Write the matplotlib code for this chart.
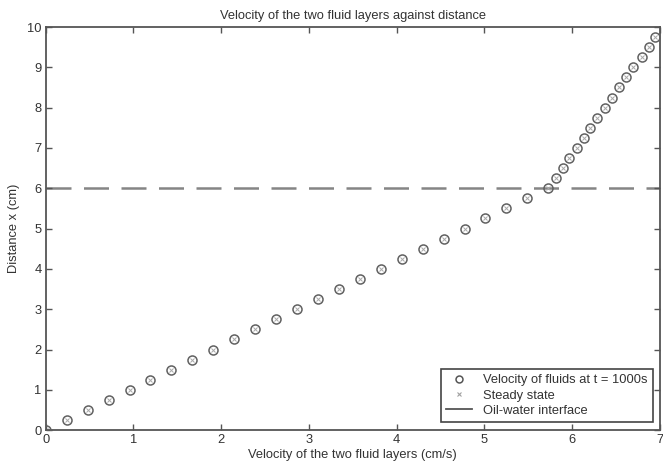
import matplotlib.pyplot as plt
from matplotlib.lines import Line2D

plt.rcParams['font.family'] = ['Liberation Sans', 'DejaVu Sans']

# distance (cm) and velocity (cm/s)
distance = [0.0, 0.25, 0.5, 0.75, 1.0, 1.25, 1.5, 1.75, 2.0, 2.25, 2.5, 2.75,
            3.0, 3.25, 3.5, 3.75, 4.0, 4.25, 4.5, 4.75, 5.0, 5.25, 5.5, 5.75,
            6.0, 6.25, 6.5, 6.75, 7.0, 7.25, 7.5, 7.75, 8.0, 8.25, 8.5, 8.75,
            9.0, 9.25, 9.5, 9.75]
velocity_t1000 = [0.0, 0.24, 0.48, 0.72, 0.96, 1.19, 1.43, 1.67, 1.91, 2.15,
                  2.39, 2.63, 2.87, 3.10, 3.34, 3.58, 3.82, 4.06, 4.30, 4.54,
                  4.78, 5.01, 5.25, 5.49, 5.73, 5.82, 5.90, 5.97, 6.06, 6.14,
                  6.21, 6.29, 6.38, 6.46, 6.54, 6.62, 6.70, 6.80, 6.88, 6.95]
velocity_steady = [0.0, 0.24, 0.48, 0.72, 0.96, 1.19, 1.43, 1.67, 1.91, 2.15,
                   2.39, 2.63, 2.87, 3.10, 3.34, 3.58, 3.82, 4.06, 4.30, 4.54,
                   4.78, 5.01, 5.25, 5.49, 5.73, 5.82, 5.90, 5.97, 6.06, 6.14,
                   6.21, 6.29, 6.38, 6.46, 6.54, 6.62, 6.70, 6.80, 6.88, 6.95]
interface = 6

grey = '#555555'
txt = '#333333'
fs = 9.3

fig = plt.figure(figsize=(6.63, 4.66), dpi=100)
ax = fig.add_axes([0.069, 0.077, 0.926, 0.865])

# Oil-water interface
ax.axhline(interface, color='#858585', lw=1.8, dashes=(10, 5), zorder=1)

# steady state under the circles
ax.plot(velocity_steady, distance, 'x', color='#a8a8a8', ms=3, mew=0.7,
        linestyle='none', zorder=2)
# velocity at t = 1000 s
ax.plot(velocity_t1000, distance, 'o', mfc='none', mec='#606060', ms=6.5,
        mew=1.1, linestyle='none', zorder=3)

ax.set_xlim(0, 7)
ax.set_ylim(0, 10)
ax.set_xticks(range(0, 8))
ax.set_yticks(range(0, 11))

ax.tick_params(direction='in', length=4, width=1, colors=grey, labelcolor=txt,
               labelsize=fs, top=True, right=True, pad=3)
for s in ax.spines.values():
    s.set_color(grey)
    s.set_linewidth(1.3)

ax.set_title('Velocity of the two fluid layers against distance',
             fontsize=fs, color=txt, pad=6)
ax.set_xlabel('Velocity of the two fluid layers (cm/s)', fontsize=fs,
              color=txt, labelpad=2)
ax.set_ylabel('Distance x (cm)', fontsize=fs, color=txt, labelpad=5)

handles = [
    Line2D([], [], marker='o', mfc='none', mec='#555555', ms=5, mew=1.1,
           linestyle='none'),
    Line2D([], [], marker='x', color='#a0a0a0', ms=3.5, mew=0.8,
           linestyle='none'),
    Line2D([], [], color='#555555', lw=1.3),
]
labels = ['Velocity of fluids at t = 1000s', 'Steady state',
          'Oil-water interface']
leg = ax.legend(handles, labels, loc='lower right',
                bbox_to_anchor=(0.989, 0.02), borderaxespad=0,
                fontsize=fs, fancybox=False, framealpha=1,
                edgecolor='#444444', handlelength=2.0, handletextpad=0.9,
                borderpad=0.4, labelspacing=0.25)
leg.get_frame().set_linewidth(1.2)
for t in leg.get_texts():
    t.set_color(txt)

plt.savefig('out.png', dpi=100)
